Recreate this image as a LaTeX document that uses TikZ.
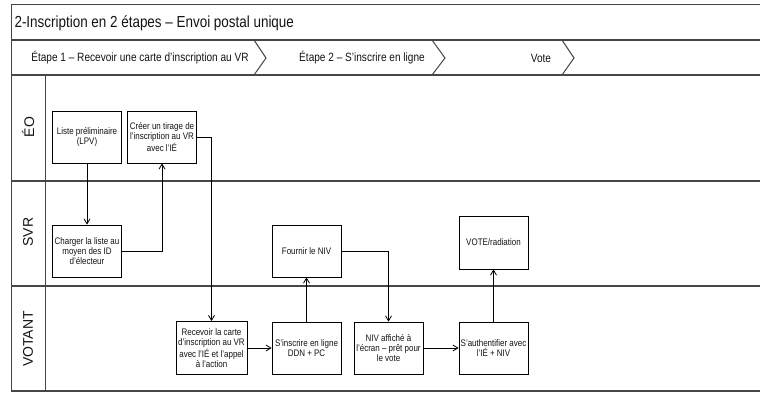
\documentclass[tikz,border=0pt]{standalone}
\usepackage{fontspec}
\setmainfont[FakeStretch=0.84]{Liberation Sans}
\newfontfamily\lanefont{Liberation Sans}
\usepackage{xcolor}
\usetikzlibrary{arrows.meta, positioning}
\definecolor{laneline}{RGB}{70, 70, 70}
\definecolor{textdark}{RGB}{20, 20, 20}

\begin{document}
\begin{tikzpicture}[
    x=1pt, y=-1pt,
    stepbox/.style={rectangle, draw=black, line width=0.8pt, fill=white, text=textdark, minimum width=69pt, minimum height=52pt, inner sep=1pt, align=center, font=\fontsize{9.5}{10}\selectfont},
    lane/.style={line width=1.4pt, laneline},
    frame/.style={line width=1pt, laneline},
    lanelabel/.style={rotate=90, text=textdark, font=\lanefont\fontsize{14}{14}\selectfont},
    stage/.style={text=textdark, font=\fontsize{12}{12}\selectfont},
    flow/.style={-{Straight Barb[length=5pt, width=6pt]}, line width=0.8pt, black}
]
    \useasboundingbox (0,0) rectangle (760,393);
    \fill[white] (0,0) rectangle (760,393);

    % pool frame and lanes
    \draw[frame] (760,5) -- (11,5) -- (11,391);
    \draw[lane] (11,40) -- (760,40);
    \draw[lane] (11,75) -- (760,75);
    \draw[lane] (11,181) -- (760,181);
    \draw[lane] (11,286) -- (760,286);
    \draw[lane] (11,391) -- (760,391);
    \draw[frame] (45,75) -- (45,391);

    % stage chevrons
    \draw[frame] (254,40) -- (266,58) -- (254,75);
    \draw[frame] (432,40) -- (445,58) -- (432,75);
    \draw[frame] (562,40) -- (574,58) -- (562,75);

    \node[anchor=west, text=textdark, font=\fontsize{16}{16}\selectfont] (title) at (11,23) {2-Inscription en 2 étapes – Envoi postal unique};
    \node[stage] (etape1) at (140,58) {Étape 1 – Recevoir une carte d'inscription au VR};
    \node[stage] (etape2) at (362,58) {Étape 2 – S'inscrire en ligne};
    \node[stage] (vote) at (541,58) {Vote};

    \node[lanelabel] (eo) at (28,127) {ÉO};
    \node[lanelabel] (svr) at (28,232) {SVR};
    \node[lanelabel] (votant) at (28,339) {VOTANT};

    % activities
    \node[stepbox] (lpv) at (87,137) {Liste préliminaire\\(LPV)};
    \node[stepbox] (creer) at (162,137) {Créer un tirage de\\l'inscription au VR\\avec l'IÉ};
    \node[stepbox] (charger) at (87,251) {Charger la liste au\\moyen des ID\\d'électeur};
    \node[stepbox, minimum width=71pt, minimum height=53pt] (recevoir) at (211.5,348) {Recevoir la carte\\d'inscription au VR\\avec l'IÉ et l'appel\\à l'action};
    \node[stepbox] (inscrire) at (306.5,348) {S'inscrire en ligne\\DDN + PC};
    \node[stepbox] (fournir) at (306.5,251) {Fournir le NIV};
    \node[stepbox] (niv) at (388.5,348) {NIV affiché à\\l'écran – prêt pour\\le vote};
    \node[stepbox] (auth) at (493.5,348) {S'authentifier avec\\l'IÉ + NIV};
    \node[stepbox, minimum height=53pt] (radiation) at (493.5,242.5) {VOTE/radiation};

    \draw[flow] (lpv) -- (charger);
    \draw[flow] (charger.east) -| (creer.south);
    \draw[flow] (creer.east) -| (recevoir.north);
    \draw[flow] (recevoir) -- (inscrire);
    \draw[flow] (inscrire) -- (fournir);
    \draw[flow] (fournir.east) -| (niv.north);
    \draw[flow] (niv) -- (auth);
    \draw[flow] (auth) -- (radiation);
\end{tikzpicture}
\end{document}
